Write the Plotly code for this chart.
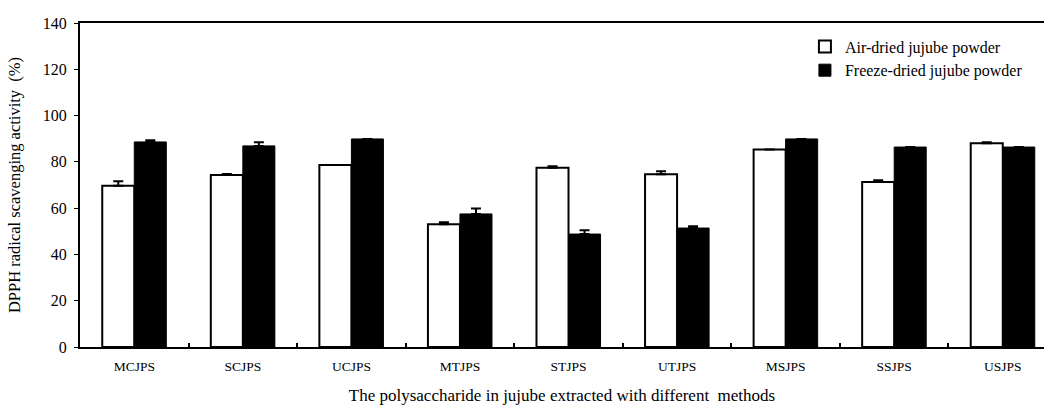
import plotly.graph_objects as go

categories = ["MCJPS", "SCJPS", "UCJPS", "MTJPS", "STJPS", "UTJPS", "MSJPS", "SSJPS", "USJPS"]
air_dried = [69.7, 74.3, 78.6, 53.0, 77.5, 74.6, 85.3, 71.3, 88.0]
air_err = [1.9, 0.5, 0.0, 0.9, 0.6, 1.3, 0.0, 0.7, 0.5]
freeze_dried = [88.6, 86.9, 89.9, 57.5, 48.8, 51.4, 89.9, 86.4, 86.4]
freeze_err = [0.7, 1.6, 0.0, 2.3, 1.6, 0.8, 0.0, 0.0, 0.0]
y_ticks = [0, 20, 40, 60, 80, 100, 120, 140]

FONT = "Liberation Serif"

fig = go.Figure()
fig.add_trace(go.Bar(
    x=categories, y=air_dried, name="Air-dried jujube powder",
    marker=dict(color="white", line=dict(color="black", width=2)),
    error_y=dict(type="data", array=air_err, arrayminus=[0]*len(air_err), symmetric=False,
                 color="black", thickness=2, width=5),
))
fig.add_trace(go.Bar(
    x=categories, y=freeze_dried, name="Freeze-dried jujube powder",
    marker=dict(color="black", line=dict(color="black", width=1)),
    error_y=dict(type="data", array=freeze_err, arrayminus=[0]*len(freeze_err), symmetric=False,
                 color="black", thickness=2, width=5),
))

fig.update_layout(
    width=1044, height=405,
    margin=dict(l=80, r=0, t=23, b=58, autoexpand=False),
    paper_bgcolor="white", plot_bgcolor="white",
    barmode="group", bargap=0.41, bargroupgap=0,
    font=dict(family=FONT, color="black", size=14),
    showlegend=True,
    legend=dict(x=0.752, y=0.98, xanchor="left", yanchor="top",
                font=dict(family=FONT, size=16, color="black"),
                bgcolor="rgba(0,0,0,0)", itemwidth=30),
)
fig.update_xaxes(
    type="category", range=[-0.5, 8.38], automargin=False,
    showline=True, linecolor="black", linewidth=2, mirror=True,
    ticks="inside", tickson="boundaries", ticklen=4, tickwidth=2, tickcolor="black",
    ticklabelstandoff=6,
    showgrid=False, zeroline=False,
    tickfont=dict(family=FONT, size=13.5),
    title=dict(text="The polysaccharide in jujube extracted with different  methods",
               font=dict(family=FONT, size=17), standoff=24),
)
fig.update_yaxes(
    range=[0, 140], tickvals=y_ticks, automargin=False,
    showline=True, linecolor="black", linewidth=2,
    ticks="outside", ticklen=4, tickwidth=1, tickcolor="black",
    ticklabelstandoff=4,
    showgrid=False, zeroline=False,
    tickfont=dict(family=FONT, size=16),
    title=dict(text="DPPH radical scavenging activity\u00a0\u00a0(%)",
               font=dict(family=FONT, size=16.5), standoff=18),
)

fig.write_html("out.html", config={"displayModeBar": False},
               post_script="document.body.style.margin='0';")
